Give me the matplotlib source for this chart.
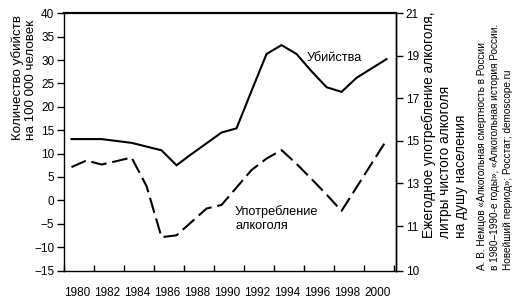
import numpy as np
import matplotlib
matplotlib.use("Agg")
import matplotlib.pyplot as plt

plt.rcParams['font.family'] = ['Liberation Sans', 'DejaVu Sans']

# --------------------------- Data ---------------------------
years = list(range(1980, 2002))
murders = [13.1, 13.1, 13.1, 12.7, 12.3, 11.5, 10.7, 7.5, 9.9, 12.2, 14.5,
           15.4, 23.4, 31.3, 33.2, 31.3, 27.6, 24.2, 23.2, 26.2, 28.2, 30.2]
alcohol = [13.77, 14.08, 13.89, 14.05, 14.22, 12.88, 10.75, 10.79, 11.19, 11.82, 11.99,
           12.81, 13.63, 14.17, 14.57, 13.92, 13.21, 12.48, 11.71, 12.82, 13.93, 15.04]

left_ticks = list(range(-15, 41, 5))
right_ticks = [21, 19, 17, 15, 13, 11, 10]
year_labels = [str(y) for y in range(1980, 2001, 2)]

murder_label = "Убийства"
alcohol_label = "Употребление\nалкоголя"
left_title = "Количество убийств\nна 100 000 человек"
right_title = "Ежегодное употребление алкоголя,\nлитры чистого алкоголя\nна душу населения"
source = ("А. В. Немцов «Алкогольная смертность в России\n"
          "в 1980–1990-е годы», «Алкогольная история России.\n"
          "Новейший период»; Росстат; demoscope.ru")

# right axis is broken: 10 sits at the bottom, 11..21 is linear above it
r_knots = [10, 11, 21]
f_knots = [0.0, 0.173, 1.0]


def fwd(r):
    return np.interp(r, r_knots, f_knots)


def inv(f):
    return np.interp(f, f_knots, r_knots)


# --------------------------- Plot ---------------------------
W, H = 526, 301
fig = plt.figure(figsize=(W / 100, H / 100), dpi=100)
ax = fig.add_axes([64 / W, (H - 270.5) / H, 332 / W, 257.2 / H])

ax.plot(years, murders, color='black', lw=1.5, solid_joinstyle='miter')
ax.set_xlim(1979.5, 2001.63)
ax.set_ylim(-15, 40)
ax.set_yticks(left_ticks)
ax.tick_params(axis='y', direction='out', length=5, width=1, pad=2, labelsize=8.5)

ax.set_xticks(np.arange(1979.5, 2002, 2))
ax.set_xticklabels([])
ax.tick_params(axis='x', which='major', direction='in', length=4, width=1)
ax.set_xticks(np.arange(1980.4, 2001, 2), minor=True)
ax.set_xticklabels(year_labels, minor=True)
ax.tick_params(axis='x', which='minor', length=0, pad=12, labelsize=8.5)

for s in ['left', 'bottom', 'right']:
    ax.spines[s].set_linewidth(1)
ax.spines['top'].set_linewidth(1.6)

ax2 = ax.twinx()
ax2.set_yscale('function', functions=(fwd, inv))
ax2.set_ylim(10, 21)
ax2.plot(years, alcohol, color='black', lw=1.5, dashes=(7.5, 2.8))
ax2.set_yticks(right_ticks)
ax2.set_yticklabels([str(t) for t in right_ticks])
ax2.yaxis.set_minor_locator(matplotlib.ticker.NullLocator())
ax2.tick_params(axis='y', direction='out', length=5, width=1, pad=2, labelsize=8.5)
for s in ['left', 'bottom', 'top']:
    ax2.spines[s].set_visible(False)
ax2.spines['right'].set_linewidth(1)

ax.text(1995.7, 30.4, murder_label, ha='left', va='center', fontsize=9.2)
ax.text(1990.9, -3.9, alcohol_label, ha='left', va='center', fontsize=9.2,
        multialignment='left')

fig.text(24 / W, (H - 140) / H, left_title, rotation=90, ha='center', va='bottom',
         multialignment='left', fontsize=9.6)
fig.text(445 / W, (H - 238) / H, right_title, rotation=90, ha='center', va='bottom',
         multialignment='left', fontsize=9.8)
fig.text(495 / W, (H - 270) / H, source, rotation=90, ha='center', va='bottom',
         multialignment='left', fontsize=7.2, linespacing=1.35)

fig.savefig("out.png", dpi=100)
